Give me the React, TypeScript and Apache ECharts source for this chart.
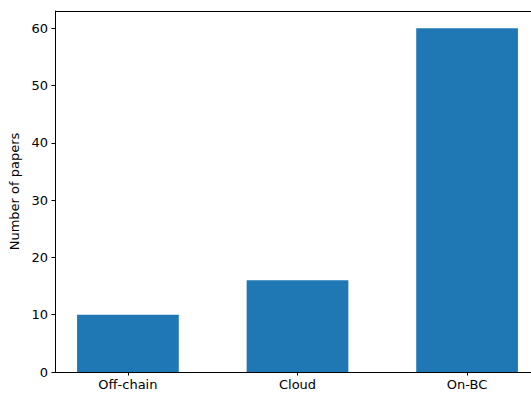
import React, { useEffect, useRef } from "react";
import * as echarts from "echarts";

const categories = ["Off-chain", "Cloud", "On-BC"];
const paperCounts = [10, 16, 60];
const yTicks = [0, 10, 20, 30, 40, 50, 60];

const FONT = "DejaVu Sans";
const INK = "#000000";
const FONT_SIZE = 13;

export default function App() {
  const ref = useRef<HTMLDivElement>(null);

  useEffect(() => {
    if (!ref.current) return;
    const chart = echarts.init(ref.current, undefined, { renderer: "svg" });
    const positions = categories.map((_, i) => i);
    chart.setOption({
      animation: false,
      backgroundColor: "#ffffff",
      grid: {
        left: 55,
        top: 11,
        bottom: 22,
        right: 0,
        containLabel: false,
        outerBoundsMode: "none",
      },
      xAxis: {
        type: "value",
        min: -0.43,
        max: 2.43,
        splitLine: { show: false },
        axisLine: { show: true, onZero: false, lineStyle: { color: INK, width: 1 } },
        axisTick: {
          show: true,
          length: 3.5,
          customValues: positions,
          lineStyle: { color: INK, width: 1 },
        },
        axisLabel: {
          customValues: positions,
          margin: 6,
          color: INK,
          fontFamily: FONT,
          fontSize: FONT_SIZE,
          formatter: (v: number) => categories[Math.round(v)] ?? "",
        },
      },
      yAxis: {
        type: "value",
        min: 0,
        max: 63,
        name: "Number of papers",
        nameLocation: "middle",
        nameGap: 33,
        nameTextStyle: { color: INK, fontFamily: FONT, fontSize: FONT_SIZE },
        splitLine: { show: false },
        axisLine: { show: true, onZero: false, lineStyle: { color: INK, width: 1 } },
        axisTick: {
          show: true,
          length: 3.5,
          customValues: yTicks,
          lineStyle: { color: INK, width: 1 },
        },
        axisLabel: {
          customValues: yTicks,
          margin: 7,
          color: INK,
          fontFamily: FONT,
          fontSize: FONT_SIZE,
        },
      },
      graphic: [
        {
          type: "line",
          shape: { x1: 55, y1: 11.5, x2: 540, y2: 11.5 },
          style: { stroke: INK, lineWidth: 1 },
          silent: true,
        },
      ],
      series: [
        {
          type: "bar",
          data: paperCounts.map((v, i) => [i, v]),
          barWidth: 101.7,
          itemStyle: { color: "#1f77b4" },
        },
      ],
    });
    return () => chart.dispose();
  }, []);

  return (
    <div
      style={{
        position: "fixed",
        left: 0,
        top: 0,
        width: 531,
        height: 394,
        overflow: "hidden",
        background: "#ffffff",
      }}
    >
      <div ref={ref} style={{ width: 540, height: 394 }} />
    </div>
  );
}
